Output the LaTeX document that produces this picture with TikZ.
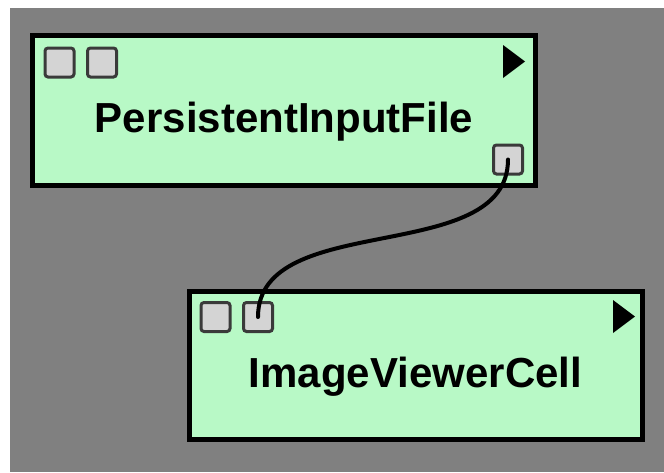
\documentclass[tikz,border=0pt]{standalone}
\usepackage{fontspec}
\setmainfont{Liberation Sans}
\usepackage{tikz}
\usetikzlibrary{positioning,calc}
\definecolor{canvasgray}{RGB}{128,128,128}
\definecolor{modmint}{RGB}{184,249,198}
\definecolor{portgray}{RGB}{212,212,212}
\definecolor{portedge}{RGB}{58,58,58}
\tikzset{
  modbox/.style={draw=black, fill=modmint, line width=5pt, inner sep=0pt},
  modlabel/.style={anchor=base, inner sep=0pt, font=\bfseries\fontsize{42}{50}\selectfont},
  portbox/.style={draw=portedge, fill=portgray, line width=3pt, rounded corners=3pt,
    minimum width=29pt, minimum height=29pt, inner sep=0pt},
  wire/.style={line width=4pt, black, line cap=round}
}
\begin{document}
\begin{tikzpicture}[x=1pt, y=-1pt]
    \useasboundingbox (0,0) rectangle (664,472);
    \fill[white] (0,0) rectangle (664,472);
    \fill[canvasgray] (10,8) rectangle (664,472);
    % first module
    \node[modbox, minimum width=503pt, minimum height=150pt] (persist) at (283.5,110) {};
    \node[modlabel] (persistLabel) at (284,132) {PersistentInputFile};
    \node[portbox] (persistInA) at (59.5,62.5) {};
    \node[portbox] (persistInB) at (102,62.5) {};
    \node[portbox] (persistOut) at (508,159.5) {};
    \fill (503,45) -- (525,61.5) -- (503,78) -- cycle;
    % second module
    \node[modbox, minimum width=453pt, minimum height=148pt] (viewer) at (416,365.5) {};
    \node[modlabel] (viewerLabel) at (415.5,387) {ImageViewerCell};
    \node[portbox] (viewerInA) at (215.5,317) {};
    \node[portbox] (viewerInB) at (258,317) {};
    \fill (613,300) -- (635,316.5) -- (613,333) -- cycle;
    % connection
    \draw[wire] (persistOut.center) .. controls ($(persistOut.center)+(0,108)$) and ($(viewerInB.center)+(0,-108)$) .. (viewerInB.center);
\end{tikzpicture}
\end{document}
